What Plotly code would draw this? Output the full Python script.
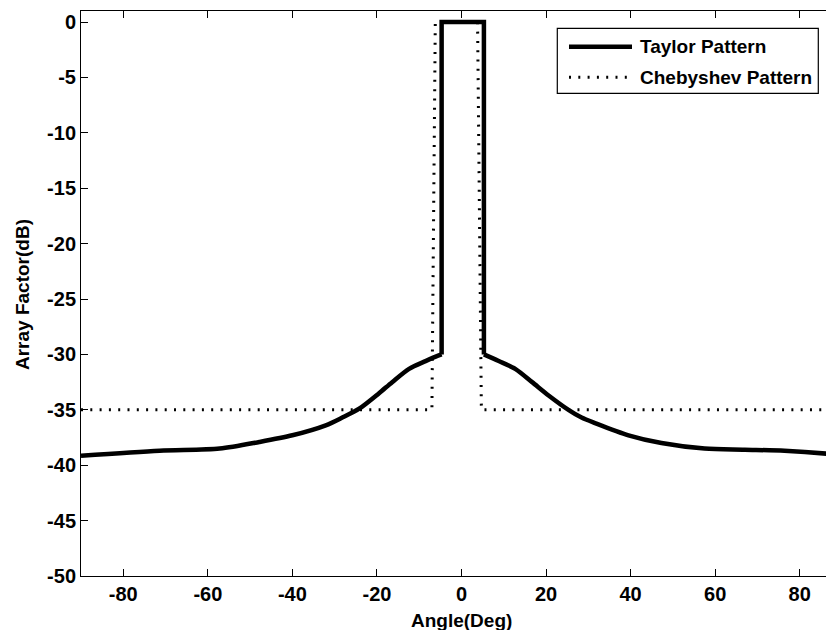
import plotly.graph_objects as go

# Taylor pattern (solid): left side lobes, main beam, right side lobes
taylor_left_angle = [-90, -71.4, -57.2, -47.8, -40.0, -32.1, -28.2, -24.2, -19.5, -16.4, -12.4, -8.5, -6.1, -4.7]
taylor_left_db = [-39.15, -38.7, -38.5, -37.9, -37.3, -36.4, -35.7, -34.9, -33.5, -32.5, -31.3, -30.6, -30.2, -30.0]
taylor_main_angle = [-4.7, -4.7, 5.3, 5.3]
taylor_main_db = [-30.0, 0, 0, -30.0]
taylor_right_angle = [5.3, 8.8, 12.7, 16.7, 20.6, 25.3, 28.4, 31.6, 39.5, 47.3, 57.5, 67.0, 76.4, 87.6, 90]
taylor_right_db = [-30.0, -30.6, -31.3, -32.5, -33.7, -35.0, -35.7, -36.2, -37.3, -38.0, -38.5, -38.6, -38.7, -39.0, -39.1]

# Chebyshev pattern (dotted)
cheb_angle = [-90, -7.0, -6.2, 3.8, 4.7, 90]
cheb_db = [-35, -35, 0, 0, -35, -35]

x_ticks = [-80, -60, -40, -20, 0, 20, 40, 60, 80]
y_ticks = [0, -5, -10, -15, -20, -25, -30, -35, -40, -45, -50]

legend_names = ["Taylor Pattern", "Chebyshev Pattern"]

FONT = "Arial, Liberation Sans, sans-serif"
TW = 4.5
DOT = dict(color="black", width=3, dash="2px,7.3px")

fig = go.Figure()
fig.add_trace(go.Scatter(x=taylor_left_angle, y=taylor_left_db, mode="lines", name=legend_names[0],
                         line=dict(color="black", width=TW, shape="spline", smoothing=0.8), showlegend=False))
fig.add_trace(go.Scatter(x=taylor_main_angle, y=taylor_main_db, mode="lines", name=legend_names[0],
                         line=dict(color="black", width=TW), showlegend=False))
fig.add_trace(go.Scatter(x=taylor_right_angle, y=taylor_right_db, mode="lines", name=legend_names[0],
                         line=dict(color="black", width=TW, shape="spline", smoothing=0.8), showlegend=False))
fig.add_trace(go.Scatter(x=cheb_angle, y=cheb_db, mode="lines", name=legend_names[1],
                         line=DOT, showlegend=False))

W, H = 834, 630
OFF = 8  # page body offset of the figure in the screenshot
ml, mr, mt, mb = 73, 0, 3, 62
pw, ph = W - ml - mr, H - mt - mb

def px(xs):
    return (xs - OFF - ml) / pw

def py(ys):
    return 1 - (ys - OFF - mt) / ph

shapes = [
    dict(type="rect", xref="paper", yref="paper", x0=px(557.3), x1=px(818.3), y0=py(93.3), y1=py(28.3),
         line=dict(color="black", width=1.2), fillcolor="white"),
    dict(type="line", xref="paper", yref="paper", x0=px(569), x1=px(632), y0=py(46.7), y1=py(46.7),
         line=dict(color="black", width=TW)),
    dict(type="line", xref="paper", yref="paper", x0=px(569), x1=px(632), y0=py(77.3), y1=py(77.3),
         line=DOT),
]
annotations = [
    dict(xref="paper", yref="paper", x=px(638.3), y=py(46.7), text=legend_names[0], showarrow=False,
         xanchor="left", yanchor="middle", font=dict(family=FONT, size=19, color="black", weight="bold")),
    dict(xref="paper", yref="paper", x=px(638.3), y=py(77.3), text=legend_names[1], showarrow=False,
         xanchor="left", yanchor="middle", font=dict(family=FONT, size=19, color="black", weight="bold")),
    dict(xref="x", yref="paper", x=0, y=py(620), text="Angle(Deg)", showarrow=False,
         xanchor="center", yanchor="middle", font=dict(family=FONT, size=19, color="black", weight="bold")),
    dict(xref="paper", yref="paper", x=px(22), y=py(295), text="Array Factor(dB)", showarrow=False,
         textangle=-90, xanchor="center", yanchor="middle",
         font=dict(family=FONT, size=19, color="black", weight="bold")),
]

fig.update_layout(
    width=W, height=H,
    margin=dict(l=ml, r=mr, t=mt, b=mb),
    paper_bgcolor="white", plot_bgcolor="white",
    font=dict(family=FONT, color="black", weight="bold"),
    shapes=shapes, annotations=annotations,
    showlegend=False,
)
fig.update_xaxes(range=[-90, 90], tickvals=x_ticks, ticktext=[str(v) for v in x_ticks],
                 ticks="inside", ticklen=7, tickcolor="black",
                 showline=True, linecolor="black", linewidth=1, mirror="ticks", showgrid=False, zeroline=False,
                 tickfont=dict(family=FONT, size=20, color="black", weight="bold"))
fig.update_yaxes(range=[-50, 1], tickvals=y_ticks, ticktext=[str(v) for v in y_ticks],
                 ticks="inside", ticklen=7, tickcolor="black",
                 showline=True, linecolor="black", linewidth=1, mirror=False, showgrid=False, zeroline=False,
                 tickfont=dict(family=FONT, size=20, color="black", weight="bold"))

fig.write_html("out.html")
